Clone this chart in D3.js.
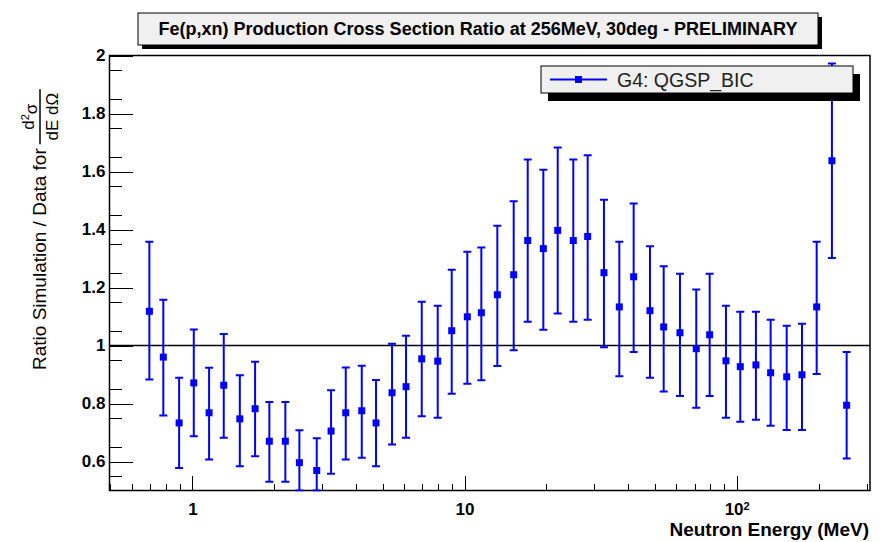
<!DOCTYPE html>
<meta charset="utf-8">
<style>

body {
  margin: 0;
  background: #fff;
}

svg {
  display: block;
  font-family: "Liberation Sans", Arial, sans-serif;
}

.axis path {
  display: none;
}

.axis line {
  stroke: #000;
  stroke-width: 1px;
  shape-rendering: crispEdges;
}

.axis text {
  font-size: 17px;
  font-weight: bold;
  fill: #000;
}

.bar {
  stroke: #0000ff;
  stroke-width: 2px;
}

.marker {
  fill: #0000ff;
}

</style>
<body>
<div id="chart"></div>
<script src="https://d3js.org/d3.v7.min.js"></script>
<script>

// neutron energy bin centres (MeV)
var energyMeV = [0.695, 0.782, 0.894, 1.012, 1.152, 1.304, 1.494, 1.700, 1.918, 2.196,
                 2.473, 2.864, 3.233, 3.661, 4.192, 4.730, 5.416, 6.097, 6.963, 7.972,
                 8.974, 10.24, 11.53, 13.20, 15.16, 17.07, 19.48, 22.00, 25.10, 28.35,
                 32.54, 37.05, 41.83, 48.03, 53.93, 61.90, 71.05, 79.58, 91.35, 103.1,
                 117.7, 133.3, 152.7, 173.8, 196.8, 223.9, 253.6];

// ratio simulation / data
var ratio = [1.118, 0.960, 0.733, 0.871, 0.768, 0.863, 0.747, 0.782, 0.670, 0.670,
             0.596, 0.569, 0.705, 0.768, 0.775, 0.733, 0.837, 0.858, 0.954, 0.946,
             1.051, 1.099, 1.113, 1.175, 1.244, 1.362, 1.334, 1.397, 1.362, 1.376,
             1.251, 1.133, 1.237, 1.120, 1.064, 1.044, 0.989, 1.037, 0.947, 0.927,
             0.933, 0.906, 0.892, 0.899, 1.133, 1.637, 0.794];

// upper end of the error bar
var ratioUp = [1.358, 1.158, 0.889, 1.055, 0.923, 1.040, 0.897, 0.944, 0.805, 0.805,
               0.708, 0.680, 0.846, 0.924, 0.930, 0.881, 1.006, 1.034, 1.151, 1.137,
               1.261, 1.323, 1.338, 1.413, 1.497, 1.641, 1.606, 1.683, 1.641, 1.656,
               1.503, 1.358, 1.490, 1.342, 1.273, 1.247, 1.193, 1.247, 1.137, 1.116,
               1.116, 1.089, 1.068, 1.075, 1.358, 1.972, 0.978];

// lower end of the error bar
var ratioDown = [0.883, 0.759, 0.578, 0.687, 0.607, 0.682, 0.584, 0.618, 0.530, 0.530,
                 0.480, 0.460, 0.558, 0.607, 0.613, 0.584, 0.659, 0.682, 0.756, 0.751,
                 0.834, 0.868, 0.880, 0.929, 0.984, 1.082, 1.054, 1.110, 1.082, 1.089,
                 0.994, 0.894, 0.978, 0.889, 0.841, 0.826, 0.785, 0.826, 0.751, 0.737,
                 0.744, 0.723, 0.709, 0.709, 0.902, 1.302, 0.610];

var xMajorTicks = [1, 10, 100],
    xTickLabels = ["1", "10", "10"];   // last one gets a superscript 2
var yMajorTicks = [0.6, 0.8, 1, 1.2, 1.4, 1.6, 1.8, 2],
    yTickLabels = ["0.6", "0.8", "1", "1.2", "1.4", "1.6", "1.8", "2"];

var titleText = "Fe(p,xn) Production Cross Section Ratio at 256MeV, 30deg - PRELIMINARY",
    legendText = "G4: QGSP_BIC",
    xTitle = "Neutron Energy (MeV)",
    yTitle = "Ratio Simulation / Data for";

var margin = {top: 55.5, right: 14, bottom: 51.5, left: 109.5},
    width = 884 - margin.left - margin.right,
    height = 542 - margin.top - margin.bottom;

var x = d3.scaleLog()
    .domain([0.496, 309])
    .range([0, width]);

var y = d3.scaleLinear()
    .domain([0.5, 2])
    .range([height, 0]);

// clamped copy so the bars that run off the bottom stop at the frame
var yc = y.copy().clamp(true);

var svgRoot = d3.select("#chart").append("svg")
    .attr("width", 884)
    .attr("height", 542);

var svg = svgRoot.append("g")
    .attr("transform", "translate(" + margin.left + "," + margin.top + ")");

// minor ticks (unlabelled)
var xMinor = [];
[0.1, 1, 10, 100].forEach(function (dec) {
    for (var k = 2; k <= 9; k++) {
        var v = dec * k;
        if (v > x.domain()[0] && v < x.domain()[1] && xMajorTicks.indexOf(v) < 0) xMinor.push(v);
    }
});
var yMinor = d3.range(0.55, 2, 0.1);

svg.append("g")
    .attr("class", "axis")
    .attr("transform", "translate(0," + height + ")")
    .call(d3.axisBottom(x).tickValues(xMinor).tickSizeInner(-7).tickSizeOuter(0).tickFormat(""));

var xAxisG = svg.append("g")
    .attr("class", "axis")
    .attr("transform", "translate(0," + height + ")")
    .call(d3.axisBottom(x)
        .tickValues(xMajorTicks)
        .tickSizeInner(-15)
        .tickSizeOuter(0)
        .tickPadding(12)
        .tickFormat(function (d, i) { return xTickLabels[i]; }));

xAxisG.selectAll(".tick text")
    .filter(function (d) { return d === 100; })
    .append("tspan")
    .attr("dy", "-0.45em")
    .style("font-size", "11px")
    .text("2");

svg.append("g")
    .attr("class", "axis")
    .call(d3.axisLeft(y).tickValues(yMinor).tickSizeInner(-12).tickSizeOuter(0).tickFormat(""));

svg.append("g")
    .attr("class", "axis")
    .call(d3.axisLeft(y)
        .tickValues(yMajorTicks)
        .tickSizeInner(-23)
        .tickSizeOuter(0)
        .tickPadding(4)
        .tickFormat(function (d, i) { return yTickLabels[i]; }));

// frame
svg.append("rect")
    .attr("width", width)
    .attr("height", height)
    .attr("fill", "none")
    .attr("stroke", "#000")
    .attr("stroke-width", 1.5);

// reference line at ratio = 1
svg.append("line")
    .attr("x1", 0)
    .attr("x2", width)
    .attr("y1", y(1))
    .attr("y2", y(1))
    .attr("stroke", "#000")
    .attr("stroke-width", 1.5);

svg.append("clipPath")
    .attr("id", "plotclip")
    .append("rect")
    .attr("x", 0)
    .attr("y", -2)
    .attr("width", width)
    .attr("height", height + 3);

var points = energyMeV.map(function (e, i) {
    return {e: e, v: ratio[i], hi: ratioUp[i], lo: ratioDown[i]};
});

var pts = svg.append("g")
    .attr("clip-path", "url(#plotclip)")
    .selectAll(".pt")
    .data(points)
    .enter().append("g")
    .attr("class", "pt");

pts.append("line")
    .attr("class", "bar")
    .attr("x1", function (d) { return x(d.e); })
    .attr("x2", function (d) { return x(d.e); })
    .attr("y1", function (d) { return yc(d.hi); })
    .attr("y2", function (d) { return yc(d.lo); });

pts.append("line")
    .attr("class", "bar")
    .attr("x1", function (d) { return x(d.e) - 4; })
    .attr("x2", function (d) { return x(d.e) + 4; })
    .attr("y1", function (d) { return yc(d.hi); })
    .attr("y2", function (d) { return yc(d.hi); });

pts.append("line")
    .attr("class", "bar")
    .attr("x1", function (d) { return x(d.e) - 4; })
    .attr("x2", function (d) { return x(d.e) + 4; })
    .attr("y1", function (d) { return yc(d.lo); })
    .attr("y2", function (d) { return yc(d.lo); });

pts.append("rect")
    .attr("class", "marker")
    .attr("x", function (d) { return x(d.e) - 3.5; })
    .attr("y", function (d) { return y(d.v) - 3.5; })
    .attr("width", 7)
    .attr("height", 7);

// axis titles
svg.append("text")
    .attr("x", width - 1)
    .attr("y", height + 45.5)
    .attr("text-anchor", "end")
    .style("font-size", "19px")
    .style("font-weight", "bold")
    .text(xTitle);

var yt = svgRoot.append("g")
    .attr("transform", "translate(46,370) rotate(-90)")
    .style("font-size", "19px");

var ytMain = yt.append("text")
    .attr("x", 0)
    .attr("y", 0)
    .text(yTitle);

// fraction d2sigma / dE dOmega placed just after the text
var fx = ytMain.node().getComputedTextLength() + 4,
    fw = 55;

yt.append("line")
    .attr("x1", fx)
    .attr("x2", fx + fw)
    .attr("y1", -6)
    .attr("y2", -6)
    .attr("stroke", "#000")
    .attr("stroke-width", 1.5);

var num = yt.append("text")
    .attr("x", fx + fw / 2)
    .attr("y", -12)
    .attr("text-anchor", "middle")
    .style("font-size", "17px");
num.append("tspan").text("d");
num.append("tspan").attr("dy", "-0.5em").style("font-size", "11px").text("2");
num.append("tspan").attr("dy", "0.5em").text("σ");

yt.append("text")
    .attr("x", fx + fw / 2)
    .attr("y", 12)
    .attr("text-anchor", "middle")
    .style("font-size", "17px")
    .text("dE dΩ");

// title box
svgRoot.append("rect")
    .attr("x", 142)
    .attr("y", 17)
    .attr("width", 680)
    .attr("height", 32)
    .attr("fill", "#000");

svgRoot.append("rect")
    .attr("x", 138)
    .attr("y", 13)
    .attr("width", 680)
    .attr("height", 32)
    .attr("fill", "#f0f0f0")
    .attr("stroke", "#000")
    .attr("stroke-width", 1);

svgRoot.append("text")
    .attr("x", 478)
    .attr("y", 35)
    .attr("text-anchor", "middle")
    .style("font-size", "18px")
    .style("font-weight", "bold")
    .text(titleText);

// legend
var legX = 541, legY = 66, legW = 312, legH = 27;

svgRoot.append("rect")
    .attr("x", legX + 7)
    .attr("y", legY + 8)
    .attr("width", legW)
    .attr("height", legH)
    .attr("fill", "#000");

svgRoot.append("rect")
    .attr("x", legX)
    .attr("y", legY)
    .attr("width", legW)
    .attr("height", legH)
    .attr("fill", "#f0f0f0")
    .attr("stroke", "#000")
    .attr("stroke-width", 1);

svgRoot.append("line")
    .attr("class", "bar")
    .attr("x1", legX + 9)
    .attr("x2", legX + 66)
    .attr("y1", legY + legH / 2)
    .attr("y2", legY + legH / 2);

svgRoot.append("rect")
    .attr("class", "marker")
    .attr("x", legX + 37.5 - 3.5)
    .attr("y", legY + legH / 2 - 3.5)
    .attr("width", 7)
    .attr("height", 7);

svgRoot.append("text")
    .attr("x", legX + 76)
    .attr("y", legY + legH / 2 + 7)
    .style("font-size", "19.5px")
    .style("fill", "#222")
    .text(legendText);

</script>
